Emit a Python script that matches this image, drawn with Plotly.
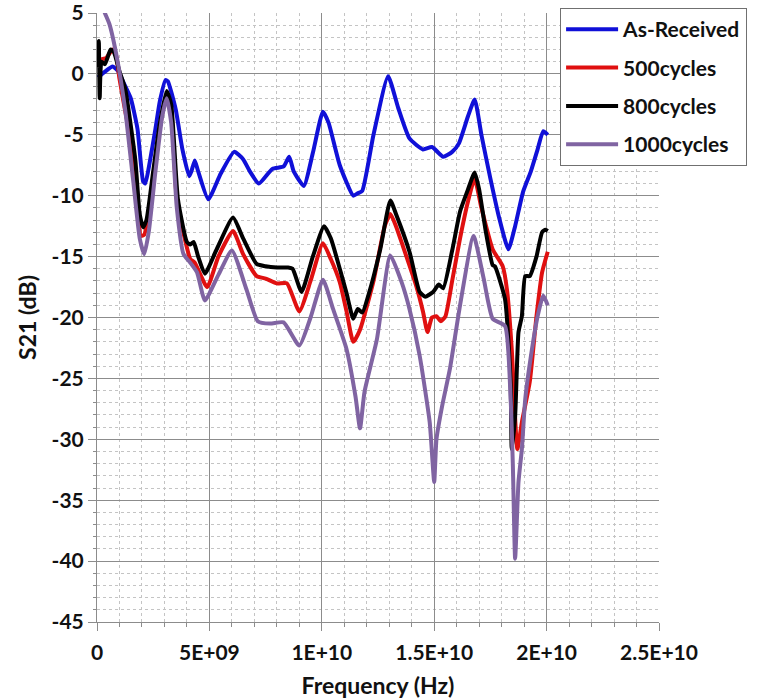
import plotly.graph_objects as go

# ---- data (frequency in GHz, S21 in dB) ----
as_received_f = [0.05, 0.3, 0.7, 0.95, 1.2, 1.5, 1.8, 2.05, 2.15, 2.35, 2.6, 2.8, 3.05, 3.15, 3.5, 3.8,
                 4.1, 4.2, 4.35, 4.5, 4.95, 5.5, 6.1, 6.5, 6.8, 7.2, 7.8, 8.3, 8.55, 8.75, 9.2, 9.6,
                 10.05, 10.3, 10.8, 11.4, 11.6, 11.8, 12.3, 12.95, 13.4, 13.9, 14.5, 14.9, 15.4, 15.8,
                 16.1, 16.5, 16.8, 17.1, 17.5, 17.9, 18.3, 18.6, 18.95, 19.3, 19.6, 19.85, 20.05]
as_received_db = [-0.3, 0.1, 0.6, 0.2, -0.8, -2.0, -4.5, -8.8, -9.0, -7.2, -4.5, -2.2, -0.5, -0.6, -2.9, -6.2,
                  -8.4, -8.0, -7.1, -8.0, -10.3, -8.2, -6.4, -7.0, -8.0, -9.0, -7.8, -7.6, -6.8, -8.0, -9.2, -6.5,
                  -3.1, -4.0, -7.5, -10.0, -9.8, -9.6, -5.0, -0.2, -2.8, -5.3, -6.2, -6.0, -6.8, -6.4,
                  -5.7, -3.5, -2.1, -5.0, -8.6, -11.9, -14.4, -12.5, -9.7, -8.0, -6.2, -4.7, -5.0]

c500_f = [0.05, 0.2, 0.4, 0.7, 0.85, 1.0, 1.25, 1.5, 1.8, 1.95, 2.1, 2.4, 2.7, 3.1, 3.3, 3.55, 3.9,
          4.15, 4.35, 4.9, 5.4, 6.05, 6.5, 7.1, 7.5, 8.0, 8.45, 9.0, 9.5, 10.05, 10.4, 10.8, 11.1,
          11.4, 11.7, 12.3, 12.8, 13.05, 13.3, 13.6, 14.2, 14.5, 14.7, 14.9, 15.1, 15.3, 15.5, 15.8,
          16.15, 16.5, 16.8, 17.1, 17.6, 18.05, 18.25, 18.45, 18.7, 18.9, 19.25, 19.55, 19.8, 20.05]
c500_db = [0.8, 1.2, 1.3, 2.0, 1.5, -0.4, -3.0, -5.3, -10.3, -13.3, -13.2, -10.0, -5.5, -1.6, -3.0, -10.3, -13.5,
           -15.2, -15.5, -17.5, -15.0, -12.9, -14.8, -16.6, -16.8, -17.2, -17.2, -19.5, -17.0, -13.9, -15.2, -17.1, -19.5,
           -22.0, -21.0, -17.0, -12.5, -11.5, -12.5, -14.1, -17.4, -19.5, -21.2, -20.0, -19.9, -20.3, -19.9, -17.0,
           -13.5, -10.5, -8.6, -11.0, -14.4, -15.8, -17.9, -22.6, -30.8, -28.6, -25.3, -19.9, -16.3, -14.6]

c800_f = [0.02, 0.08, 0.12, 0.2, 0.35, 0.5, 0.6, 0.75, 1.0, 1.25, 1.7, 1.9, 2.05, 2.2, 2.5, 2.8, 3.1, 3.3,
          3.6, 4.0, 4.15, 4.3, 4.5, 4.8, 5.3, 6.05, 6.5, 7.1, 7.5, 8.0, 8.5, 8.7, 9.1, 9.6, 10.1, 10.4,
          10.8, 11.1, 11.4, 11.6, 11.8, 12.1, 12.6, 13.05, 13.3, 13.9, 14.35, 14.6, 14.95, 15.2, 15.4,
          15.8, 16.15, 16.5, 16.8, 17.0, 17.3, 17.6, 17.7, 18.15, 18.4, 18.45, 18.6, 18.75, 18.9, 19.05,
          19.25, 19.55, 19.8, 19.95, 20.05]
c800_db = [0.5, 2.7, -2.0, 1.0, 0.8, 1.5, 2.0, 1.8, 0.2, -1.2, -7.0, -11.5, -12.6, -12.0, -8.0, -4.0, -1.4, -2.5,
           -10.3, -13.8, -14.0, -13.8, -15.0, -16.4, -14.5, -11.8, -13.5, -15.6, -15.8, -15.9, -15.9, -16.0, -17.9, -15.0, -12.5, -13.5,
           -16.0, -18.0, -20.1, -19.3, -19.6, -18.0, -14.4, -10.4, -11.5, -14.6, -17.9, -18.3, -17.9, -17.3, -17.6,
           -14.5, -11.3, -9.5, -8.1, -9.5, -13.0, -15.7, -15.8, -18.5, -25.3, -30.8, -28.1, -21.2, -19.9, -16.6,
           -16.6, -15.0, -13.0, -12.8, -12.9]

c1000_f = [0.2, 0.35, 0.55, 0.9, 1.25, 1.6, 1.9, 2.1, 2.3, 2.6, 2.9, 3.1, 3.3, 3.55, 3.85, 4.15, 4.45, 4.8,
           5.4, 6.0, 6.65, 7.15, 7.7, 8.3, 9.0, 9.5, 10.05, 10.5, 11.1, 11.5, 11.7, 11.9, 12.45, 13.05,
           13.55, 13.9, 14.35, 14.8, 15.0, 15.1, 15.35, 15.7, 16.15, 16.75, 17.2, 17.6, 18.15, 18.4, 18.5,
           18.6, 18.75, 18.9, 19.05, 19.35, 19.6, 19.85, 20.05]
c1000_db = [5.8, 5.0, 4.1, 1.2, -2.9, -8.6, -13.5, -14.8, -13.0, -8.0, -3.5, -2.0, -4.0, -11.0, -14.8, -15.5, -16.3, -18.6,
            -16.5, -14.5, -17.7, -20.3, -20.5, -20.4, -22.3, -20.0, -16.9, -19.3, -22.6, -26.5, -29.1, -26.1, -21.8, -14.9,
            -17.1, -19.3, -23.1, -28.6, -33.5, -30.0, -27.3, -24.2, -19.0, -13.3, -16.8, -20.1, -20.7, -26.7, -32.2,
            -39.8, -33.5, -30.8, -26.7, -22.6, -19.9, -18.2, -19.0]

series_names = ["As-Received", "500cycles", "800cycles", "1000cycles"]
series_colors = ["#1010d8", "#e01010", "#000000", "#8064a2"]

x_tick_vals = [0, 5e9, 1e10, 1.5e10, 2e10, 2.5e10]
x_tick_text = ["0", "5E+09", "1E+10", "1.5E+10", "2E+10", "2.5E+10"]
y_tick_vals = [5, 0, -5, -10, -15, -20, -25, -30, -35, -40, -45]
y_tick_text = ["5", "0", "-5", "-10", "-15", "-20", "-25", "-30", "-35", "-40", "-45"]

series = [(as_received_f, as_received_db), (c500_f, c500_db), (c800_f, c800_db), (c1000_f, c1000_db)]

FONT = "Lato"
fig = go.Figure()
for i, ((f, db), name, col) in enumerate(zip(series, series_names, series_colors)):
    fig.add_trace(go.Scatter(
        x=[v * 1e9 for v in f], y=db, mode="lines", name=name,
        legendgroup=name, legendrank=i + 1,
        line=dict(color=col, width=4, shape="spline", smoothing=0.5),
    ))

grid_major = "#8c8c8c"
grid_minor = "#c4c4c4"

fig.update_layout(
    width=763, height=700,
    margin=dict(l=97, r=104, t=13, b=78, autoexpand=False),
    paper_bgcolor="white", plot_bgcolor="white",
    font=dict(family=FONT, size=21, color="#111111", weight="bold"),
    showlegend=True,
    legend=dict(
        x=0.824, y=1.008, xanchor="left", yanchor="top",
        bgcolor="white", bordercolor="#707070", borderwidth=1,
        font=dict(family=FONT, size=21, color="#111111", weight="bold"),
        tracegroupgap=8, traceorder="grouped", itemwidth=52,
    ),
    xaxis=dict(
        range=[0, 2.5e10], tickmode="array", tickvals=x_tick_vals, ticktext=x_tick_text,
        showgrid=True, gridcolor=grid_major, gridwidth=1,
        showline=True, linecolor=grid_major, linewidth=1,
        ticks="outside", ticklen=8, tickcolor=grid_major,
        ticklabelstandoff=4, ticklabeloverflow="allow",
        zeroline=False,
        minor=dict(dtick=1e9, tick0=0, showgrid=True, gridcolor=grid_minor, griddash="dot",
                   ticks="outside", ticklen=4, tickcolor=grid_major),
        title=dict(text="Frequency (Hz)", standoff=14, font=dict(family=FONT, size=23, weight="bold")),
        tickfont=dict(family=FONT, size=21, weight="bold"),
    ),
    yaxis=dict(
        range=[-45, 5], tickmode="array", tickvals=y_tick_vals, ticktext=y_tick_text,
        showgrid=True, gridcolor=grid_major, gridwidth=1,
        showline=True, linecolor=grid_major, linewidth=1,
        ticks="outside", ticklen=8, tickcolor=grid_major,
        ticklabeloverflow="allow",
        zeroline=False,
        minor=dict(dtick=1, tick0=0, showgrid=True, gridcolor=grid_minor, griddash="dot",
                   ticks="outside", ticklen=3, tickcolor=grid_major),
        title=dict(text="S21 (dB)", standoff=8, font=dict(family=FONT, size=23, weight="bold")),
        tickfont=dict(family=FONT, size=21, weight="bold"),
    ),
)

fig.write_html("out.html")
